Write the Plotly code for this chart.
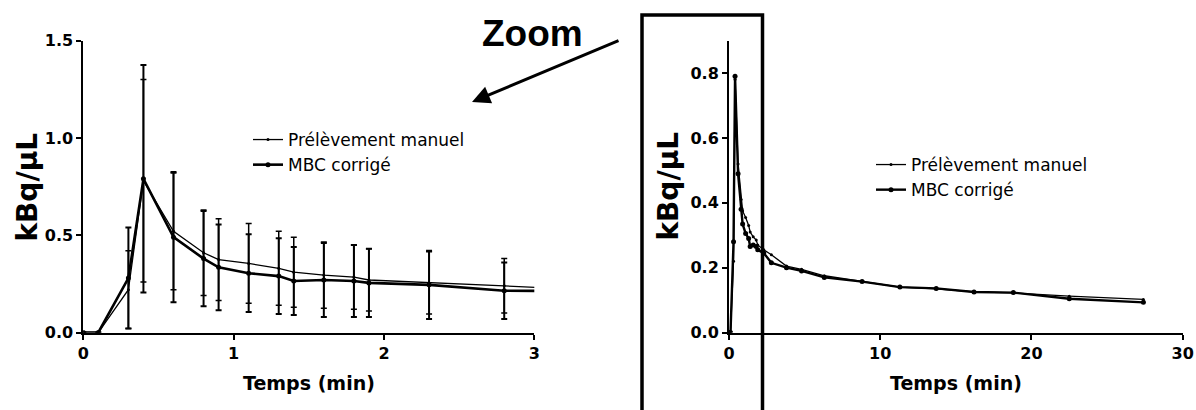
import plotly.graph_objects as go

# ---- data ----
temps = [0, 0.1, 0.3, 0.4, 0.6, 0.8, 0.9, 1.1, 1.3, 1.4, 1.6, 1.8, 1.9, 2.3, 2.8,
         3.8, 4.8, 6.3, 8.8, 11.3, 13.7, 16.2, 18.8, 22.5, 27.4]
prelevement_manuel = [0, 0, 0.22, 0.78, 0.52, 0.41, 0.375, 0.355, 0.33, 0.31, 0.295, 0.285, 0.27, 0.255, 0.24,
                      0.205, 0.195, 0.175, 0.157, 0.14, 0.135, 0.125, 0.122, 0.112, 0.102]
mbc_corrige = [0, 0, 0.28, 0.79, 0.49, 0.38, 0.335, 0.305, 0.29, 0.265, 0.27, 0.265, 0.255, 0.245, 0.215,
               0.20, 0.19, 0.17, 0.157, 0.14, 0.136, 0.125, 0.123, 0.104, 0.093]
# error bars (only shown in the zoomed panel, first 15 points)
err_manuel = [0, 0, 0.2, 0.52, 0.30, 0.22, 0.21, 0.205, 0.19, 0.18, 0.17, 0.165, 0.16, 0.16, 0.14]
err_mbc = [0, 0, 0.26, 0.585, 0.335, 0.245, 0.22, 0.2, 0.195, 0.175, 0.19, 0.185, 0.175, 0.175, 0.145]

names = ["Prélèvement manuel", "MBC corrigé"]
left_yticks = [0, 0.5, 1.0, 1.5]
right_yticks = [0, 0.2, 0.4, 0.6, 0.8]
left_xticks = [0, 1, 2, 3]
right_xticks = [0, 10, 20, 30]
x_title = "Temps (min)"
y_title = "kBq/µL"

W, H = 1196, 410
TICKFONT = dict(family="DejaVu Sans", size=16, color="black", weight="bold")
XTITLEFONT = dict(family="DejaVu Sans", size=19, color="black", weight="bold")
YTITLEFONT = dict(family="DejaVu Sans", size=28, color="black", weight="bold")
LEGFONT = dict(family="DejaVu Sans", size=17, color="black")


def px_x(p):
    return p / W


def px_y(p):
    return (H - p) / H


fig = go.Figure()

# left (zoomed) panel with error bars
fig.add_trace(go.Scatter(
    x=temps, y=prelevement_manuel, name=names[0], mode="lines+markers",
    line=dict(color="black", width=1.3), marker=dict(color="black", size=3),
    error_y=dict(type="data", array=err_manuel, visible=True, color="black", thickness=1.5, width=3),
    xaxis="x", yaxis="y", legend="legend"))
fig.add_trace(go.Scatter(
    x=temps, y=mbc_corrige, name=names[1], mode="lines+markers",
    line=dict(color="black", width=2.6), marker=dict(color="black", size=5),
    error_y=dict(type="data", array=err_mbc, visible=True, color="black", thickness=2, width=3),
    xaxis="x", yaxis="y", legend="legend"))

# right (full) panel
fig.add_trace(go.Scatter(
    x=temps, y=prelevement_manuel, name=names[0], mode="lines+markers",
    line=dict(color="black", width=1.3), marker=dict(color="black", size=3),
    xaxis="x2", yaxis="y2", legend="legend2"))
fig.add_trace(go.Scatter(
    x=temps, y=mbc_corrige, name=names[1], mode="lines+markers",
    line=dict(color="black", width=2.4), marker=dict(color="black", size=5),
    xaxis="x2", yaxis="y2", legend="legend2"))

axis_common = dict(showline=True, linecolor="black", linewidth=2, ticks="outside", ticklen=5,
                   tickwidth=2, tickcolor="black", showgrid=False, zeroline=False,
                   tickfont=TICKFONT, automargin=False)

y_dom = [px_y(332.5), px_y(40.7)]
xl_dom = [px_x(83.3), px_x(534.3)]
xr_dom = [px_x(729), px_x(1182.7)]

fig.update_layout(
    width=W, height=H,
    margin=dict(l=0, r=0, t=0, b=0, autoexpand=False),
    paper_bgcolor="white", plot_bgcolor="white",
    xaxis=dict(domain=xl_dom, range=[0, 3], tickvals=left_xticks, anchor="y", **axis_common),
    yaxis=dict(domain=y_dom, range=[0, 1.5], tickvals=left_yticks, tickformat=".1f",
               anchor="x", **axis_common),
    xaxis2=dict(domain=xr_dom, range=[0, 30], tickvals=right_xticks, anchor="y2", **axis_common),
    yaxis2=dict(domain=y_dom, range=[0, 0.9], tickvals=right_yticks, tickformat=".1f",
                anchor="x2", **axis_common),
    legend=dict(x=px_x(248), y=px_y(122), xanchor="left", yanchor="top",
                bgcolor="rgba(0,0,0,0)", font=LEGFONT, itemwidth=30, tracegroupgap=0),
    legend2=dict(x=px_x(871), y=px_y(147), xanchor="left", yanchor="top",
                 bgcolor="rgba(0,0,0,0)", font=LEGFONT, itemwidth=30, tracegroupgap=0),
    showlegend=True,
)

# axis titles
for dom in (xl_dom, xr_dom):
    fig.add_annotation(text=x_title, x=(dom[0] + dom[1]) / 2, y=px_y(383), xref="paper", yref="paper",
                       xanchor="center", yanchor="middle", showarrow=False, font=XTITLEFONT)
for xc in (28, 669):
    fig.add_annotation(text=y_title, x=px_x(xc), y=(y_dom[0] + y_dom[1]) / 2, xref="paper", yref="paper",
                       xanchor="center", yanchor="middle", textangle=-90, showarrow=False, font=YTITLEFONT)

# "Zoom" label and arrow
fig.add_annotation(text="Zoom", x=px_x(532), y=px_y(34), xref="paper", yref="paper",
                   xanchor="center", yanchor="middle", showarrow=False,
                   font=dict(family="Liberation Sans, Arial", size=37, color="black", weight="bold"))
fig.add_annotation(text="", x=px_x(472), y=px_y(102), xref="paper", yref="paper",
                   ax=148, ay=-62, showarrow=True, arrowhead=2, arrowsize=1.2, arrowwidth=3,
                   arrowcolor="black")

# zoom box around the early part of the right panel
fig.add_shape(type="rect", xref="paper", yref="paper",
              x0=px_x(642), x1=px_x(762.5), y0=px_y(420), y1=px_y(15),
              line=dict(color="black", width=3.5), fillcolor="rgba(0,0,0,0)")

fig.write_html("out.html", config={"displayModeBar": False},
               post_script="document.body.style.margin='0';document.body.style.padding='0';")
